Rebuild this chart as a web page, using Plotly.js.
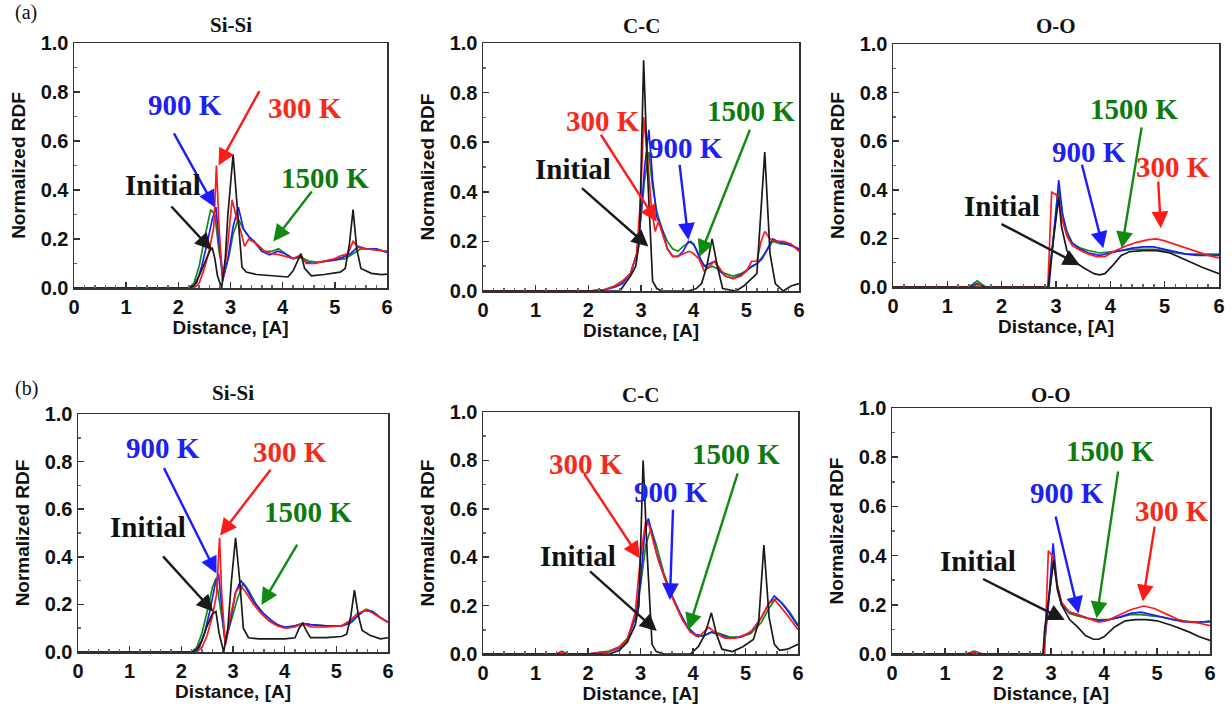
<!DOCTYPE html>
<html>
<head>
<meta charset="utf-8">
<script src="https://cdn.plot.ly/plotly-3.0.1.min.js"></script>
<style>html,body{margin:0;padding:0;background:#fff;}#chart{width:1232px;height:710px;}</style>
</head>
<body>
<div id="chart"></div>
<script>
// ---------------- DATA ----------------
// (a) Si-Si
const aSi_init_x = [0, 2.2, 2.3, 2.4, 2.5, 2.6, 2.65, 2.7, 2.75, 2.83, 2.9, 2.95, 3.05, 3.15, 3.22, 3.3, 3.5, 3.8, 4.1, 4.2, 4.3, 4.35, 4.42, 4.55, 4.8, 5.1, 5.2, 5.28, 5.35, 5.42, 5.5, 5.7, 5.9, 6.0];
const aSi_init_y = [0, 0, 0.01, 0.05, 0.1, 0.15, 0.165, 0.12, 0.05, 0, 0.12, 0.3, 0.545, 0.28, 0.085, 0.065, 0.055, 0.05, 0.045, 0.07, 0.12, 0.14, 0.08, 0.05, 0.055, 0.065, 0.08, 0.18, 0.32, 0.16, 0.08, 0.06, 0.055, 0.057];
const aSi_300_x = [0, 2.3, 2.4, 2.5, 2.6, 2.68, 2.73, 2.78, 2.85, 2.95, 3.03, 3.1, 3.2, 3.27, 3.35, 3.5, 3.65, 3.8, 3.95, 4.1, 4.2, 4.35, 4.45, 4.6, 4.8, 5.0, 5.1, 5.25, 5.35, 5.45, 5.6, 5.8, 6.0];
const aSi_300_y = [0, 0, 0.02, 0.08, 0.16, 0.25, 0.5, 0.25, 0.03, 0.18, 0.36, 0.3, 0.23, 0.17, 0.2, 0.18, 0.15, 0.14, 0.135, 0.125, 0.12, 0.135, 0.1, 0.1, 0.11, 0.12, 0.13, 0.14, 0.19, 0.165, 0.16, 0.155, 0.15];
const aSi_900_x = [0, 2.25, 2.35, 2.45, 2.55, 2.65, 2.72, 2.78, 2.85, 2.95, 3.05, 3.15, 3.25, 3.35, 3.45, 3.6, 3.75, 3.9, 4.05, 4.2, 4.35, 4.45, 4.6, 4.8, 5.0, 5.15, 5.3, 5.45, 5.6, 5.8, 6.0];
const aSi_900_y = [0, 0, 0.02, 0.09, 0.18, 0.28, 0.33, 0.2, 0.03, 0.12, 0.25, 0.33, 0.24, 0.21, 0.19, 0.15, 0.135, 0.15, 0.14, 0.12, 0.13, 0.105, 0.1, 0.11, 0.115, 0.125, 0.14, 0.17, 0.16, 0.16, 0.145];
const aSi_1500_x = [0, 2.2, 2.3, 2.4, 2.5, 2.62, 2.7, 2.78, 2.87, 2.97, 3.05, 3.15, 3.25, 3.35, 3.5, 3.65, 3.8, 3.92, 4.05, 4.2, 4.35, 4.5, 4.7, 5.0, 5.2, 5.35, 5.5, 5.65, 5.8, 6.0];
const aSi_1500_y = [0, 0, 0.02, 0.09, 0.2, 0.32, 0.3, 0.15, 0.05, 0.13, 0.22, 0.28, 0.24, 0.21, 0.18, 0.15, 0.15, 0.16, 0.14, 0.12, 0.125, 0.11, 0.105, 0.115, 0.12, 0.14, 0.16, 0.16, 0.155, 0.15];

// (a) C-C
const aC_init_x = [0, 2.6, 2.7, 2.8, 2.9, 2.97, 3.05, 3.13, 3.22, 3.3, 3.4, 3.9, 4.05, 4.15, 4.25, 4.35, 4.45, 4.55, 4.8, 4.95, 5.1, 5.2, 5.35, 5.45, 5.55, 5.7, 5.85, 6.0];
const aC_init_y = [0, 0, 0.03, 0.06, 0.1, 0.2, 0.93, 0.45, 0.04, 0.01, 0, 0, 0.01, 0.03, 0.1, 0.21, 0.1, 0.01, 0, 0.02, 0.05, 0.07, 0.56, 0.15, 0.03, 0, 0.02, 0.03];
const aC_300_x = [0, 2.0, 2.3, 2.5, 2.65, 2.8, 2.92, 3.0, 3.05, 3.12, 3.2, 3.27, 3.33, 3.42, 3.5, 3.6, 3.7, 3.8, 3.92, 4.0, 4.1, 4.2, 4.3, 4.4, 4.5, 4.6, 4.75, 4.9, 5.0, 5.1, 5.2, 5.28, 5.35, 5.45, 5.55, 5.7, 5.85, 6.0];
const aC_300_y = [0, 0, 0.005, 0.02, 0.04, 0.07, 0.15, 0.4, 0.7, 0.55, 0.33, 0.24, 0.28, 0.22, 0.17, 0.14, 0.14, 0.15, 0.16, 0.15, 0.13, 0.08, 0.1, 0.12, 0.09, 0.06, 0.05, 0.06, 0.08, 0.12, 0.12, 0.2, 0.24, 0.21, 0.2, 0.2, 0.19, 0.16];
const aC_900_x = [0, 2.0, 2.3, 2.5, 2.65, 2.8, 2.92, 3.0, 3.07, 3.15, 3.22, 3.3, 3.4, 3.5, 3.6, 3.7, 3.8, 3.9, 4.0, 4.1, 4.2, 4.3, 4.4, 4.5, 4.6, 4.75, 4.9, 5.0, 5.1, 5.2, 5.3, 5.4, 5.5, 5.6, 5.75, 5.9, 6.0];
const aC_900_y = [0, 0, 0.005, 0.015, 0.03, 0.07, 0.15, 0.3, 0.5, 0.65, 0.45, 0.3, 0.25, 0.17, 0.14, 0.14, 0.16, 0.2, 0.19, 0.14, 0.1, 0.11, 0.12, 0.08, 0.06, 0.05, 0.065, 0.08, 0.1, 0.11, 0.13, 0.17, 0.21, 0.2, 0.19, 0.18, 0.17];
const aC_1500_x = [0, 2.0, 2.3, 2.5, 2.65, 2.8, 2.92, 3.0, 3.07, 3.15, 3.22, 3.3, 3.4, 3.5, 3.6, 3.7, 3.8, 3.95, 4.05, 4.15, 4.25, 4.35, 4.45, 4.6, 4.75, 4.9, 5.05, 5.2, 5.35, 5.5, 5.65, 5.8, 6.0];
const aC_1500_y = [0, 0, 0.005, 0.02, 0.04, 0.07, 0.15, 0.3, 0.45, 0.56, 0.42, 0.32, 0.25, 0.2, 0.17, 0.16, 0.18, 0.2, 0.17, 0.12, 0.09, 0.1, 0.09, 0.07, 0.06, 0.07, 0.09, 0.11, 0.15, 0.2, 0.19, 0.19, 0.165];

// (a) O-O
const aO_init_x = [0, 2.86, 2.9, 3.05, 3.1, 3.2, 3.3, 3.5, 3.7, 3.8, 3.9, 4.05, 4.2, 4.35, 4.6, 4.85, 5.1, 5.4, 5.7, 6.0];
const aO_init_y = [0, 0, 0.1, 0.37, 0.25, 0.15, 0.11, 0.08, 0.055, 0.05, 0.055, 0.09, 0.13, 0.145, 0.15, 0.15, 0.14, 0.11, 0.08, 0.055];
const aO_300_x = [0, 1.45, 1.55, 1.65, 2.85, 2.92, 3.0, 3.05, 3.12, 3.2, 3.3, 3.45, 3.6, 3.75, 3.9, 4.1, 4.3, 4.5, 4.7, 4.85, 5.0, 5.2, 5.4, 5.6, 5.8, 6.0];
const aO_300_y = [0, 0, 0.01, 0, 0, 0.39, 0.38, 0.35, 0.27, 0.21, 0.17, 0.15, 0.135, 0.125, 0.125, 0.15, 0.17, 0.185, 0.195, 0.198, 0.19, 0.175, 0.16, 0.145, 0.13, 0.12];
const aO_900_x = [0, 1.4, 1.55, 1.7, 2.87, 2.95, 3.05, 3.12, 3.2, 3.3, 3.45, 3.6, 3.8, 4.0, 4.2, 4.4, 4.6, 4.8, 5.0, 5.2, 5.4, 5.6, 5.8, 6.0];
const aO_900_y = [0, 0, 0.015, 0, 0, 0.2, 0.44, 0.3, 0.22, 0.18, 0.155, 0.14, 0.13, 0.14, 0.15, 0.16, 0.165, 0.165, 0.155, 0.145, 0.135, 0.13, 0.13, 0.13];
const aO_1500_x = [0, 1.4, 1.55, 1.7, 2.85, 2.95, 3.05, 3.12, 3.2, 3.3, 3.45, 3.6, 3.8, 4.0, 4.2, 4.4, 4.6, 4.8, 5.0, 5.2, 5.4, 5.6, 5.8, 6.0];
const aO_1500_y = [0, 0, 0.025, 0, 0, 0.2, 0.4, 0.3, 0.23, 0.18, 0.16, 0.15, 0.14, 0.145, 0.15, 0.155, 0.155, 0.155, 0.15, 0.14, 0.135, 0.135, 0.135, 0.135];

// (b) Si-Si
const bSi_init_x = [0, 2.2, 2.3, 2.4, 2.5, 2.6, 2.67, 2.73, 2.82, 2.9, 2.97, 3.05, 3.13, 3.2, 3.3, 3.5, 4.0, 4.2, 4.28, 4.35, 4.42, 4.5, 4.8, 5.1, 5.2, 5.28, 5.35, 5.43, 5.5, 5.65, 5.85, 6.0];
const bSi_init_y = [0, 0, 0.01, 0.05, 0.11, 0.16, 0.17, 0.08, 0, 0.1, 0.3, 0.48, 0.3, 0.1, 0.06, 0.055, 0.055, 0.06, 0.1, 0.12, 0.09, 0.06, 0.06, 0.065, 0.075, 0.15, 0.26, 0.15, 0.09, 0.07, 0.055, 0.06];
const bSi_300_x = [0, 2.3, 2.4, 2.5, 2.6, 2.68, 2.74, 2.78, 2.85, 2.95, 3.05, 3.15, 3.25, 3.4, 3.55, 3.7, 3.85, 4.0, 4.2, 4.35, 4.5, 4.8, 5.1, 5.25, 5.4, 5.55, 5.65, 5.8, 6.0];
const bSi_300_y = [0, 0, 0.02, 0.07, 0.15, 0.24, 0.48, 0.25, 0.03, 0.15, 0.25, 0.28, 0.25, 0.2, 0.16, 0.13, 0.11, 0.1, 0.105, 0.12, 0.105, 0.105, 0.11, 0.13, 0.16, 0.175, 0.17, 0.15, 0.125];
const bSi_900_x = [0, 2.25, 2.35, 2.45, 2.55, 2.65, 2.72, 2.78, 2.85, 2.95, 3.05, 3.15, 3.25, 3.4, 3.55, 3.7, 3.85, 4.0, 4.2, 4.35, 4.5, 4.8, 5.1, 5.25, 5.4, 5.55, 5.7, 5.85, 6.0];
const bSi_900_y = [0, 0, 0.02, 0.08, 0.17, 0.28, 0.33, 0.2, 0.03, 0.13, 0.25, 0.3, 0.27, 0.21, 0.17, 0.14, 0.115, 0.105, 0.11, 0.12, 0.115, 0.11, 0.11, 0.12, 0.15, 0.175, 0.17, 0.145, 0.125];
const bSi_1500_x = [0, 2.2, 2.3, 2.4, 2.5, 2.6, 2.67, 2.75, 2.85, 2.95, 3.08, 3.2, 3.3, 3.45, 3.6, 3.75, 3.9, 4.05, 4.2, 4.35, 4.5, 4.8, 5.1, 5.3, 5.45, 5.58, 5.7, 5.85, 6.0];
const bSi_1500_y = [0, 0, 0.02, 0.08, 0.17, 0.27, 0.31, 0.2, 0.05, 0.12, 0.22, 0.29, 0.26, 0.2, 0.16, 0.13, 0.11, 0.1, 0.11, 0.12, 0.115, 0.11, 0.11, 0.125, 0.16, 0.18, 0.17, 0.145, 0.125];

// (b) C-C
const bC_init_x = [0, 2.4, 2.6, 2.75, 2.9, 2.97, 3.05, 3.13, 3.22, 3.3, 3.45, 3.95, 4.1, 4.2, 4.28, 4.35, 4.45, 4.55, 4.75, 4.95, 5.15, 5.25, 5.35, 5.45, 5.55, 5.65, 5.8, 6.0];
const bC_init_y = [0, 0, 0.015, 0.05, 0.12, 0.2, 0.8, 0.4, 0.04, 0.01, 0, 0, 0.03, 0.07, 0.12, 0.17, 0.08, 0.02, 0.01, 0.03, 0.06, 0.13, 0.45, 0.15, 0.04, 0.015, 0.02, 0.04];
const bC_300_x = [0, 1.4, 1.5, 1.6, 2.0, 2.4, 2.6, 2.75, 2.9, 3.0, 3.1, 3.17, 3.25, 3.35, 3.5, 3.65, 3.8, 3.95, 4.1, 4.3, 4.45, 4.6, 4.8, 5.0, 5.15, 5.3, 5.45, 5.55, 5.65, 5.8, 6.0];
const bC_300_y = [0, 0, 0.01, 0, 0, 0.01, 0.03, 0.06, 0.17, 0.4, 0.55, 0.53, 0.46, 0.38, 0.29, 0.21, 0.14, 0.09, 0.07, 0.11, 0.085, 0.065, 0.065, 0.08, 0.1, 0.15, 0.21, 0.225, 0.2, 0.16, 0.1];
const bC_900_x = [0, 1.4, 1.5, 1.6, 2.0, 2.4, 2.6, 2.75, 2.9, 3.0, 3.08, 3.15, 3.22, 3.3, 3.45, 3.6, 3.75, 3.9, 4.05, 4.2, 4.35, 4.5, 4.7, 4.9, 5.1, 5.3, 5.45, 5.55, 5.65, 5.8, 6.0];
const bC_900_y = [0, 0, 0.01, 0, 0, 0.01, 0.025, 0.06, 0.15, 0.3, 0.5, 0.56, 0.5, 0.42, 0.32, 0.24, 0.17, 0.11, 0.08, 0.075, 0.09, 0.08, 0.065, 0.07, 0.09, 0.15, 0.21, 0.24, 0.22, 0.18, 0.115];
const bC_1500_x = [0, 1.4, 1.5, 1.6, 2.0, 2.4, 2.6, 2.75, 2.9, 3.0, 3.1, 3.2, 3.3, 3.45, 3.6, 3.75, 3.9, 4.05, 4.2, 4.35, 4.5, 4.7, 4.9, 5.1, 5.3, 5.45, 5.58, 5.7, 5.85, 6.0];
const bC_1500_y = [0, 0, 0.012, 0, 0, 0.012, 0.03, 0.065, 0.15, 0.28, 0.45, 0.52, 0.45, 0.33, 0.24, 0.17, 0.11, 0.075, 0.075, 0.09, 0.085, 0.07, 0.07, 0.085, 0.13, 0.19, 0.23, 0.21, 0.17, 0.12];

// (b) O-O
const bO_init_x = [0, 2.85, 2.88, 3.05, 3.12, 3.2, 3.35, 3.5, 3.65, 3.8, 3.9, 4.0, 4.2, 4.4, 4.6, 4.8, 5.0, 5.3, 5.6, 5.8, 6.0];
const bO_init_y = [0, 0, 0.1, 0.38, 0.27, 0.2, 0.14, 0.11, 0.075, 0.06, 0.06, 0.07, 0.11, 0.135, 0.14, 0.14, 0.135, 0.115, 0.09, 0.07, 0.055];
const bO_300_x = [0, 1.4, 1.55, 1.7, 2.88, 2.95, 3.02, 3.1, 3.2, 3.35, 3.5, 3.7, 3.9, 4.05, 4.3, 4.5, 4.75, 4.95, 5.2, 5.4, 5.6, 5.8, 6.0];
const bO_300_y = [0, 0, 0.008, 0, 0, 0.42, 0.4, 0.3, 0.21, 0.17, 0.16, 0.145, 0.13, 0.135, 0.16, 0.18, 0.195, 0.185, 0.16, 0.14, 0.13, 0.125, 0.115];
const bO_900_x = [0, 1.4, 1.55, 1.7, 2.86, 2.95, 3.04, 3.12, 3.2, 3.35, 3.5, 3.7, 3.9, 4.1, 4.3, 4.5, 4.7, 4.9, 5.1, 5.3, 5.5, 5.7, 5.85, 6.0];
const bO_900_y = [0, 0, 0.01, 0, 0, 0.2, 0.45, 0.27, 0.2, 0.17, 0.16, 0.145, 0.135, 0.14, 0.15, 0.165, 0.17, 0.16, 0.15, 0.14, 0.13, 0.13, 0.13, 0.13];
const bO_1500_x = [0, 1.4, 1.55, 1.7, 2.85, 2.95, 3.05, 3.12, 3.2, 3.35, 3.5, 3.7, 3.9, 4.1, 4.3, 4.5, 4.7, 4.9, 5.1, 5.3, 5.5, 5.7, 5.85, 6.0];
const bO_1500_y = [0, 0, 0.012, 0, 0, 0.2, 0.4, 0.26, 0.2, 0.165, 0.155, 0.145, 0.14, 0.14, 0.15, 0.16, 0.16, 0.155, 0.15, 0.14, 0.135, 0.13, 0.13, 0.135];

const panelTitles = ['Si-Si', 'C-C', 'O-O', 'Si-Si', 'C-C', 'O-O'];
const seriesNames = ['1500 K', '900 K', '300 K', 'Initial'];
const xTickVals = [0, 1, 2, 3, 4, 5, 6];
const yTickVals = [0, 0.2, 0.4, 0.6, 0.8, 1.0];
const xTitle = 'Distance, [A]';
const yTitle = 'Normalized RDF';

// ---------------- LAYOUT / STYLE ----------------
const W = 1232, H = 710;
const lineColors = {'1500 K': '#118a11', '900 K': '#1c1cff', '300 K': '#ff1a1a', 'Initial': '#1a1a1a'};
const labelColors = {'1500 K': '#0d7a0d', '900 K': '#2020f0', '300 K': '#f52a1a', 'Initial': '#111111'};

const panelData = [
  {'1500 K': [aSi_1500_x, aSi_1500_y], '900 K': [aSi_900_x, aSi_900_y], '300 K': [aSi_300_x, aSi_300_y], 'Initial': [aSi_init_x, aSi_init_y]},
  {'1500 K': [aC_1500_x, aC_1500_y], '900 K': [aC_900_x, aC_900_y], '300 K': [aC_300_x, aC_300_y], 'Initial': [aC_init_x, aC_init_y]},
  {'1500 K': [aO_1500_x, aO_1500_y], '900 K': [aO_900_x, aO_900_y], '300 K': [aO_300_x, aO_300_y], 'Initial': [aO_init_x, aO_init_y]},
  {'1500 K': [bSi_1500_x, bSi_1500_y], '900 K': [bSi_900_x, bSi_900_y], '300 K': [bSi_300_x, bSi_300_y], 'Initial': [bSi_init_x, bSi_init_y]},
  {'1500 K': [bC_1500_x, bC_1500_y], '900 K': [bC_900_x, bC_900_y], '300 K': [bC_300_x, bC_300_y], 'Initial': [bC_init_x, bC_init_y]},
  {'1500 K': [bO_1500_x, bO_1500_y], '900 K': [bO_900_x, bO_900_y], '300 K': [bO_300_x, bO_300_y], 'Initial': [bO_init_x, bO_init_y]}
];

// plot-area pixel boxes [left, right, top, bottom] and title y (px)
const boxes = [
  {px: [74, 387, 43, 288], ty: 25},
  {px: [483, 799, 43, 291], ty: 26},
  {px: [893, 1219, 44, 287], ty: 26},
  {px: [78, 388, 414, 652], ty: 393},
  {px: [483, 798, 412, 654], ty: 395},
  {px: [892, 1210, 408, 654], ty: 395}
];

// arrow annotations: label position (lx,ly), arrow tail (tx,ty), head (hx,hy) in data units
const arrowSets = [
  {'900 K': [2.13, 0.747, 1.90, 0.637, 2.70, 0.33], '300 K': [4.43, 0.735, 3.57, 0.81, 2.77, 0.50], '1500 K': [4.81, 0.449, 4.58, 0.40, 3.82, 0.19], 'Initial': [1.71, 0.42, 1.84, 0.339, 2.64, 0.155]},
  {'300 K': [2.27, 0.687, 2.22, 0.636, 3.30, 0.279], '900 K': [3.85, 0.575, 3.73, 0.515, 3.90, 0.206], '1500 K': [5.08, 0.727, 5.08, 0.656, 4.11, 0.138], 'Initial': [1.71, 0.49, 1.85, 0.42, 3.14, 0.179]},
  {'1500 K': [4.44, 0.731, 4.58, 0.663, 4.21, 0.159], '900 K': [3.61, 0.557, 3.47, 0.509, 3.87, 0.159], '300 K': [5.16, 0.495, 4.88, 0.44, 4.93, 0.242], 'Initial': [2.0, 0.335, 1.97, 0.262, 3.44, 0.09]},
  {'900 K': [1.65, 0.856, 1.65, 0.779, 2.68, 0.33], '300 K': [4.10, 0.842, 3.75, 0.772, 2.75, 0.49], '1500 K': [4.46, 0.587, 4.26, 0.457, 3.55, 0.197], 'Initial': [1.36, 0.524, 1.62, 0.408, 2.62, 0.169]},
  {'300 K': [1.97, 0.785, 1.91, 0.75, 2.99, 0.395], '900 K': [3.59, 0.671, 3.62, 0.602, 3.56, 0.223], '1500 K': [4.82, 0.826, 4.86, 0.753, 3.91, 0.099], 'Initial': [1.80, 0.406, 2.01, 0.347, 3.31, 0.095]},
  {'1500 K': [4.11, 0.826, 4.27, 0.748, 3.86, 0.145], '900 K': [3.30, 0.653, 3.08, 0.565, 3.52, 0.165], '300 K': [5.29, 0.583, 4.96, 0.524, 4.73, 0.213], 'Initial': [1.63, 0.379, 1.69, 0.308, 3.26, 0.138]}
];

const traces = [];
const annotations = [];
const layout = {
  width: W, height: H,
  margin: {l: 0, r: 0, t: 0, b: 0},
  paper_bgcolor: '#ffffff', plot_bgcolor: '#ffffff',
  showlegend: false,
  font: {family: 'Arial, Liberation Sans, sans-serif', color: '#111'}
};

const tickFont = {family: 'Arial, Liberation Sans, sans-serif', size: 20, color: '#111', weight: 'bold'};
const axTitleFont = {family: 'Arial, Liberation Sans, sans-serif', size: 19, color: '#111', weight: 'bold'};
const serif = 'Liberation Serif, Times New Roman, serif';

boxes.forEach((b, i) => {
  const n = i + 1;
  const xs = n === 1 ? '' : String(n);
  const xref = 'x' + xs, yref = 'y' + xs;
  const [l, r, t, bt] = b.px;
  layout['xaxis' + xs] = {
    domain: [l / W, r / W], anchor: yref, range: [0, 6],
    tickvals: xTickVals, ticks: 'inside', ticklen: 6, tickwidth: 1.5, tickcolor: '#333',
    showline: true, linecolor: '#333', linewidth: 1.5, mirror: true,
    showgrid: false, zeroline: false, tickfont: tickFont,
    minor: {dtick: 0.2, ticks: 'inside', ticklen: 3, tickcolor: '#666', showgrid: false},
    title: {text: xTitle, font: axTitleFont, standoff: 4},
    fixedrange: true
  };
  layout['yaxis' + xs] = {
    domain: [1 - bt / H, 1 - t / H], anchor: xref, range: [0, 1],
    tickvals: yTickVals, tickformat: '.1f', ticks: 'inside', ticklen: 6, tickwidth: 1.5, tickcolor: '#333',
    showline: true, linecolor: '#333', linewidth: 1.5, mirror: true,
    showgrid: false, zeroline: false, tickfont: tickFont,
    minor: {dtick: 0.1, ticks: 'inside', ticklen: 3, tickcolor: '#666', showgrid: false},
    title: {text: yTitle, font: axTitleFont, standoff: 10},
    fixedrange: true
  };

  seriesNames.forEach(s => {
    const d = panelData[i][s];
    traces.push({
      x: d[0], y: d[1], xaxis: xref, yaxis: yref, name: s,
      type: 'scatter', mode: 'lines',
      line: {color: lineColors[s], width: 1.7},
      hoverinfo: 'skip', showlegend: false, cliponaxis: true
    });
  });

  // panel title
  annotations.push({
    xref: 'paper', yref: 'paper', x: ((l + r) / 2) / W, y: 1 - b.ty / H,
    xanchor: 'center', yanchor: 'middle', showarrow: false,
    text: panelTitles[i], font: {family: serif, size: 21, color: '#111', weight: 'bold'}
  });

  const set = arrowSets[i];
  Object.keys(set).forEach(s => {
    const [lx, ly, tx, ty, hx, hy] = set[s];
    annotations.push({
      xref: xref, yref: yref, axref: xref, ayref: yref,
      x: hx, y: hy, ax: tx, ay: ty, text: '', showarrow: true,
      arrowhead: 2, arrowsize: 1.4, arrowwidth: 2.4, arrowcolor: lineColors[s]
    });
    annotations.push({
      xref: xref, yref: yref, x: lx, y: ly, text: s, showarrow: false,
      xanchor: 'center', yanchor: 'middle',
      font: {family: serif, size: 29, color: labelColors[s], weight: 'bold'}
    });
  });
});

annotations.push({xref: 'paper', yref: 'paper', x: 13 / W, y: 1 - 13 / H, xanchor: 'left', yanchor: 'middle',
  showarrow: false, text: '(a)', font: {family: serif, size: 20, color: '#111'}});
annotations.push({xref: 'paper', yref: 'paper', x: 13 / W, y: 1 - 388 / H, xanchor: 'left', yanchor: 'middle',
  showarrow: false, text: '(b)', font: {family: serif, size: 20, color: '#111'}});

layout.annotations = annotations;

Plotly.newPlot('chart', traces, layout, {displayModeBar: false, staticPlot: true});
</script>
</body>
</html>
